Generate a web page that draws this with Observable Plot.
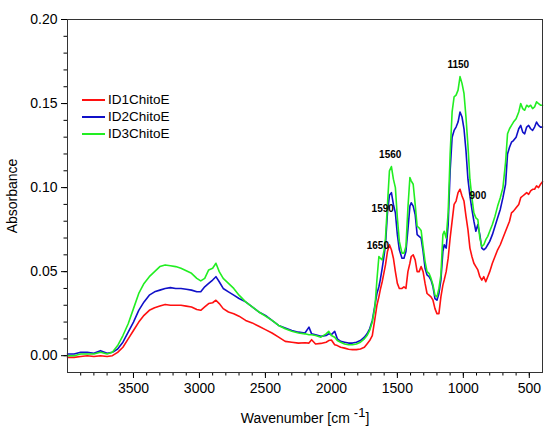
<!DOCTYPE html>
<html>
<head>
<meta charset="utf-8">
<script src="https://cdn.jsdelivr.net/npm/d3@7"></script>
<script src="https://cdn.jsdelivr.net/npm/@observablehq/plot@0.6"></script>
<style>
  html, body { margin: 0; padding: 0; background: #fff; }
  #wrap { position: relative; width: 550px; height: 437px; font-family: "Liberation Sans", Arial, sans-serif; }
  #legend { position: absolute; left: 82px; top: 91px; font-size: 13.5px; color: #000; }
  #legend .row { display: flex; align-items: center; height: 17px; }
  #legend .sw { width: 23px; height: 2px; margin-right: 3px; }
</style>
</head>
<body>
<div id="wrap"><div id="legend"></div></div>
<script>
const wavenumbers = [4000,3950,3900,3850,3800,3750,3700,3660,3620,3580,3540,3500,3460,3420,3380,3340,3300,3260,3220,3180,3140,3100,3060,3020,2990,2960,2930,2900,2875,2850,2820,2780,2740,2700,2650,2600,2550,2500,2450,2400,2350,2300,2250,2200,2170,2150,2120,2080,2040,2020,2000,1975,1955,1930,1900,1870,1840,1810,1780,1750,1730,1710,1690,1670,1655,1640,1630,1615,1600,1590,1575,1560,1545,1530,1515,1500,1485,1465,1450,1435,1420,1405,1395,1380,1365,1350,1335,1320,1305,1290,1275,1260,1245,1230,1215,1200,1185,1170,1155,1145,1130,1115,1100,1085,1070,1055,1040,1025,1010,995,980,965,950,935,920,905,890,875,860,845,830,815,800,780,760,740,720,700,680,665,650,635,620,600,580,565,550,535,520,505,490,475,460,445,430,415,400];

const id1ChitoE = [-0.001,-0.001,-0.0005,0.000,-0.0005,0.000,-0.0005,0.000,0.002,0.005,0.010,0.015,0.020,0.024,0.027,0.0285,0.0295,0.0305,0.030,0.030,0.030,0.0295,0.029,0.0275,0.027,0.029,0.031,0.0315,0.033,0.031,0.028,0.026,0.025,0.0235,0.021,0.0195,0.0175,0.0155,0.0135,0.011,0.0085,0.008,0.0075,0.0077,0.0075,0.0095,0.007,0.0073,0.008,0.009,0.0093,0.0065,0.006,0.005,0.0045,0.0038,0.0036,0.0036,0.004,0.005,0.007,0.009,0.012,0.022,0.030,0.035,0.039,0.044,0.050,0.054,0.062,0.066,0.063,0.058,0.050,0.043,0.040,0.040,0.041,0.040,0.050,0.055,0.059,0.060,0.057,0.050,0.050,0.053,0.050,0.043,0.037,0.036,0.035,0.033,0.028,0.025,0.025,0.035,0.042,0.045,0.050,0.058,0.070,0.080,0.090,0.092,0.097,0.099,0.095,0.092,0.083,0.075,0.064,0.059,0.055,0.053,0.051,0.047,0.045,0.047,0.044,0.047,0.050,0.055,0.059,0.063,0.066,0.070,0.074,0.077,0.080,0.085,0.086,0.088,0.090,0.094,0.095,0.096,0.097,0.096,0.098,0.099,0.099,0.101,0.100,0.102,0.1035];

const id2ChitoE = [0.001,0.001,0.002,0.002,0.0015,0.003,0.0015,0.002,0.004,0.008,0.014,0.020,0.027,0.032,0.036,0.038,0.039,0.040,0.0405,0.040,0.040,0.0395,0.039,0.038,0.038,0.041,0.043,0.045,0.047,0.044,0.040,0.038,0.036,0.034,0.032,0.029,0.026,0.024,0.021,0.018,0.0165,0.0150,0.0140,0.0135,0.017,0.013,0.0125,0.0115,0.012,0.013,0.0125,0.0145,0.010,0.0085,0.008,0.0075,0.0075,0.008,0.009,0.011,0.013,0.016,0.021,0.030,0.037,0.041,0.045,0.052,0.060,0.066,0.085,0.0955,0.097,0.090,0.085,0.072,0.063,0.058,0.058,0.062,0.075,0.089,0.091,0.089,0.084,0.072,0.071,0.070,0.062,0.052,0.048,0.047,0.045,0.041,0.034,0.033,0.037,0.045,0.062,0.066,0.064,0.078,0.110,0.130,0.134,0.136,0.139,0.145,0.142,0.135,0.122,0.105,0.095,0.087,0.080,0.074,0.078,0.072,0.064,0.063,0.064,0.066,0.068,0.072,0.077,0.082,0.087,0.094,0.102,0.120,0.124,0.127,0.128,0.130,0.135,0.137,0.133,0.132,0.136,0.137,0.135,0.134,0.136,0.139,0.137,0.136,0.136];

const id3ChitoE = [0.000,0.000,0.001,0.001,0.001,0.002,0.001,0.002,0.006,0.012,0.019,0.028,0.037,0.043,0.047,0.050,0.053,0.054,0.0535,0.053,0.052,0.0505,0.049,0.046,0.0445,0.046,0.051,0.052,0.055,0.050,0.046,0.043,0.040,0.036,0.032,0.029,0.026,0.0235,0.021,0.018,0.016,0.0145,0.0135,0.013,0.0125,0.0125,0.012,0.011,0.013,0.0145,0.012,0.011,0.009,0.008,0.007,0.0065,0.0065,0.007,0.008,0.010,0.012,0.015,0.020,0.029,0.045,0.059,0.058,0.057,0.063,0.070,0.090,0.110,0.1125,0.105,0.100,0.082,0.068,0.061,0.061,0.065,0.088,0.106,0.104,0.102,0.090,0.077,0.076,0.0745,0.065,0.056,0.050,0.049,0.046,0.042,0.036,0.035,0.040,0.048,0.072,0.074,0.070,0.085,0.120,0.145,0.154,0.155,0.158,0.166,0.162,0.156,0.142,0.125,0.105,0.094,0.085,0.082,0.081,0.070,0.065,0.066,0.069,0.071,0.074,0.078,0.083,0.089,0.094,0.100,0.115,0.132,0.135,0.137,0.139,0.141,0.145,0.150,0.147,0.146,0.149,0.148,0.149,0.147,0.148,0.151,0.150,0.149,0.149];

const seriesNames = ["ID1ChitoE", "ID2ChitoE", "ID3ChitoE"];
const seriesColors = ["#ff1010", "#1010c8", "#22ee22"];
const xTicks = [3500, 3000, 2500, 2000, 1500, 1000, 500];
const yTicks = [0, 0.05, 0.10, 0.15, 0.20];
const peakLabels = ["1650", "1590", "1560", "1150", "900"];
const peakWn = [1648, 1611, 1554, 1038, 890];
const peakAbs = [0.0655, 0.0873, 0.1194, 0.173, 0.0952];

const seriesValues = [id1ChitoE, id2ChitoE, id3ChitoE];
const rows = [];
seriesNames.forEach((name, i) => {
  wavenumbers.forEach((wn, j) => rows.push({series: name, wn, a: seriesValues[i][j]}));
});
const peaks = peakLabels.map((t, i) => ({t, wn: peakWn[i], a: peakAbs[i]}));
const xMinor = d3.range(500, 4000, 100);
const yMinor = d3.range(0, 21).map(k => k / 100);

const chart = Plot.plot({
  width: 550,
  height: 437,
  marginLeft: 67,
  marginRight: 8,
  marginTop: 19,
  marginBottom: 65,
  style: {fontFamily: "'Liberation Sans', Arial, sans-serif", fontSize: "14px", color: "#000", background: "#fff"},
  x: {domain: [4000, 400]},
  y: {domain: [-0.01, 0.2]},
  color: {domain: seriesNames, range: seriesColors},
  marks: [
    Plot.axisX(xMinor, {tickSize: 3.5, text: null, label: null, stroke: "#000"}),
    Plot.axisY(yMinor, {tickSize: 3.5, text: null, label: null, stroke: "#000"}),
    Plot.axisX(xTicks, {tickSize: 6, tickPadding: 5, fontSize: 14, tickFormat: "d", stroke: "#000",
      label: "Wavenumber [cm -1]", labelAnchor: "center", labelOffset: 50, labelArrow: "none"}),
    Plot.axisY(yTicks, {tickSize: 6, tickPadding: 4, fontSize: 14, tickFormat: ".2f", stroke: "#000",
      label: "Absorbance", labelAnchor: "center", labelOffset: 60, labelArrow: "none"}),
    Plot.line(rows, {x: "wn", y: "a", z: "series", stroke: "series", strokeWidth: 1.6}),
    Plot.text(peaks, {x: "wn", y: "a", text: "t", fontSize: 10, fontWeight: "bold", fill: "#000"}),
    Plot.frame({stroke: "#333", strokeWidth: 1})
  ]
});

// render the "-1" of the x label as a superscript
d3.select(chart).selectAll("text").each(function () {
  const el = d3.select(this);
  if (el.text() === "Wavenumber [cm -1]") {
    el.text(null);
    el.append("tspan").text("Wavenumber [cm ");
    el.append("tspan").attr("dy", "-0.45em").attr("font-size", "13px").text("-1");
    el.append("tspan").attr("dy", "0.45em").text("]");
  }
});

const wrap = document.getElementById("wrap");
wrap.insertBefore(chart, wrap.firstChild);

const legend = document.getElementById("legend");
seriesNames.forEach((name, i) => {
  const row = document.createElement("div");
  row.className = "row";
  const sw = document.createElement("div");
  sw.className = "sw";
  sw.style.background = seriesColors[i];
  const tx = document.createElement("span");
  tx.textContent = name;
  row.appendChild(sw);
  row.appendChild(tx);
  legend.appendChild(row);
});
</script>
</body>
</html>
